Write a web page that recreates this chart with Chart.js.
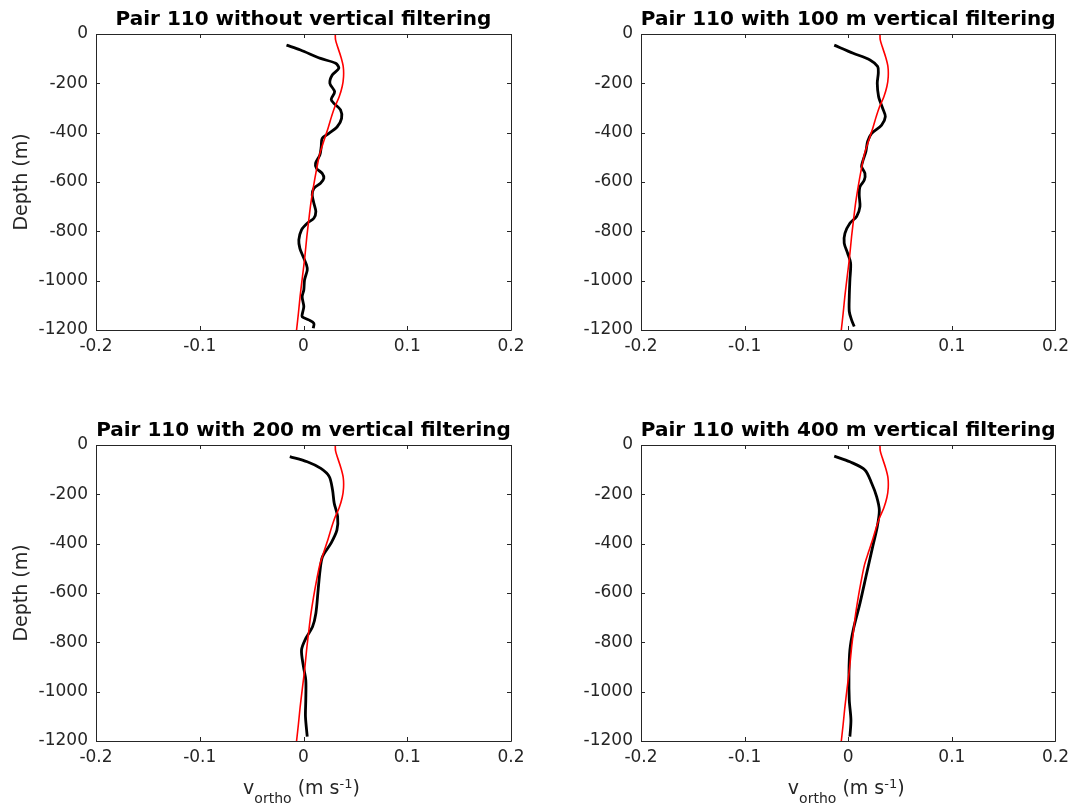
<!DOCTYPE html>
<html>
<head>
<meta charset="utf-8">
<script src="https://cdn.jsdelivr.net/npm/chart.js@4.4.1/dist/chart.umd.min.js"></script>
<style>
  html, body { margin: 0; padding: 0; background: #ffffff; }
  #wrap { position: relative; width: 1075px; height: 810px; background: #ffffff; overflow: hidden; }
  #wrap canvas { position: absolute; left: 0; top: 0; }
</style>
</head>
<body>
<div id="wrap">
  <canvas id="c0" width="1075" height="810"></canvas>
  <canvas id="c1" width="1075" height="810"></canvas>
  <canvas id="c2" width="1075" height="810"></canvas>
  <canvas id="c3" width="1075" height="810"></canvas>
</div>
<script>
// ---------------- data ----------------
const titles = [
  'Pair 110 without vertical filtering',
  'Pair 110 with 100 m vertical filtering',
  'Pair 110 with 200 m vertical filtering',
  'Pair 110 with 400 m vertical filtering'
];
const xTickLabels = ['-0.2', '-0.1', '0', '0.1', '0.2'];
const yTickLabels = ['-1200', '-1000', '-800', '-600', '-400', '-200', '0'];
const yAxisTitle = 'Depth (m)';
const xAxisTitleParts = ['v', 'ortho', ' (m s', '-1', ')'];

// reference profile (red), depth in m (positive down), velocity in m/s
const depthRed = [0, 24, 51, 92, 132, 173, 213, 254, 295, 335, 376, 430, 484, 551, 619, 686, 754, 822, 903, 984, 1065, 1132, 1193, 1200];
const vRed = [0.0306, 0.0309, 0.0328, 0.0360, 0.0383, 0.0386, 0.0373, 0.0344, 0.0302, 0.0270, 0.0241, 0.0199, 0.0158, 0.0125, 0.0096, 0.0071, 0.0051, 0.0032, 0.0013, -0.0010, -0.0033, -0.0049, -0.0065, -0.0067];

// unfiltered profile (black)
const depthRaw = [45, 65, 99, 119, 139, 166, 200, 234, 265, 281, 308, 342, 376, 403, 423, 457, 490, 524, 545, 565, 585, 605, 626, 653, 686, 720, 747, 767, 794, 835, 869, 903, 936, 957, 997, 1038, 1065, 1105, 1132, 1146, 1159, 1173, 1193];
const vRaw = [-0.0164, -0.0029, 0.0164, 0.0310, 0.0340, 0.0277, 0.0254, 0.0300, 0.0267, 0.0293, 0.0357, 0.0367, 0.0325, 0.0245, 0.0180, 0.0171, 0.0158, 0.0116, 0.0126, 0.0180, 0.0196, 0.0164, 0.0100, 0.0084, 0.0100, 0.0119, 0.0100, 0.0036, -0.0019, -0.0045, -0.0035, -0.0003, 0.0029, 0.0036, 0.0010, 0.0003, -0.0013, 0.0003, -0.0010, -0.0013, 0.0051, 0.0100, 0.0094];

// 100 m filtered profile
const depth100 = [45, 78, 105, 132, 159, 200, 254, 301, 335, 369, 403, 436, 477, 517, 538, 565, 592, 619, 653, 700, 740, 767, 808, 848, 889, 929, 997, 1065, 1125, 1159, 1186];
const v100 = [-0.0135, 0.0048, 0.0210, 0.0284, 0.0290, 0.0280, 0.0293, 0.0332, 0.0358, 0.0322, 0.0226, 0.0187, 0.0170, 0.0139, 0.0129, 0.0161, 0.0155, 0.0113, 0.0106, 0.0113, 0.0081, 0.0016, -0.0032, -0.0039, -0.0006, 0.0023, 0.0016, 0.0010, 0.0010, 0.0032, 0.0058];

// 200 m filtered profile
const depth200 = [47, 68, 95, 128, 182, 236, 291, 345, 399, 453, 507, 588, 683, 737, 784, 831, 899, 953, 1034, 1101, 1182];
const v200 = [-0.0132, 0.0036, 0.0167, 0.0248, 0.0280, 0.0296, 0.0329, 0.0322, 0.0264, 0.0183, 0.0160, 0.0141, 0.0119, 0.0087, 0.0022, -0.0019, 0.0000, 0.0022, 0.0022, 0.0019, 0.0036];

// 400 m filtered profile
const depth400 = [45, 68, 101, 155, 209, 264, 331, 412, 520, 642, 750, 831, 926, 1034, 1115, 1182];
const v400 = [-0.0135, 0.0016, 0.0161, 0.0226, 0.0274, 0.0300, 0.0280, 0.0236, 0.0178, 0.0113, 0.0048, 0.0016, 0.0007, 0.0010, 0.0026, 0.0016];

// ---------------- layout ----------------
const FONT = '"DejaVu Sans", "Liberation Sans", sans-serif';
const TXT = '#262626';
const panels = [
  { title: titles[0], depth: depthRaw, v: vRaw, box: [96, 34, 511, 330], ylab: true,  xlab: false },
  { title: titles[1], depth: depth100, v: v100, box: [641, 34, 1056, 330], ylab: false, xlab: false },
  { title: titles[2], depth: depth200, v: v200, box: [96, 445, 511, 741], ylab: true,  xlab: true },
  { title: titles[3], depth: depth400, v: v400, box: [641, 445, 1056, 741], ylab: false, xlab: true }
];
const Y_AXIS_W = 60, X_AXIS_H = 40;

function toPoints(depth, v) {
  return depth.map((d, i) => ({ x: v[i], y: -d }));
}

const decorPlugin = {
  id: 'decor',
  afterDraw(chart) {
    const p = chart.options.plugins.decor;
    const { ctx, chartArea } = chart;
    const { left, top, right, bottom } = chartArea;
    const xs = chart.scales.x, ys = chart.scales.y;
    ctx.save();
    // box
    ctx.strokeStyle = TXT;
    ctx.lineWidth = 1;
    ctx.beginPath();
    ctx.rect(Math.round(left) + 0.5, Math.round(top) + 0.5, Math.round(right - left), Math.round(bottom - top));
    ctx.stroke();
    // inward ticks
    const TL = 4;
    ctx.beginPath();
    xs.ticks.forEach(t => {
      const px = Math.round(xs.getPixelForValue(t.value)) + 0.5;
      ctx.moveTo(px, bottom); ctx.lineTo(px, bottom - TL);
      ctx.moveTo(px, top); ctx.lineTo(px, top + TL);
    });
    ys.ticks.forEach(t => {
      const py = Math.round(ys.getPixelForValue(t.value)) + 0.5;
      ctx.moveTo(left, py); ctx.lineTo(left + TL, py);
      ctx.moveTo(right, py); ctx.lineTo(right - TL, py);
    });
    ctx.stroke();
    // title
    ctx.fillStyle = '#000000';
    ctx.font = 'bold 20px ' + FONT;
    ctx.textAlign = 'center';
    ctx.textBaseline = 'alphabetic';
    ctx.fillText(p.title, (left + right) / 2, top - 9);
    // y label
    if (p.ylab) {
      ctx.save();
      ctx.translate(left - 69, (top + bottom) / 2);
      ctx.rotate(-Math.PI / 2);
      ctx.font = '19px ' + FONT;
      ctx.fillStyle = TXT;
      ctx.textAlign = 'center';
      ctx.fillText(yAxisTitle, 0, 0);
      ctx.restore();
    }
    // x label with subscript / superscript
    if (p.xlab) {
      const fMain = '19px ' + FONT, fSub = '14px ' + FONT, fSup = '13px ' + FONT;
      const parts = [
        { t: xAxisTitleParts[0], f: fMain, dy: 0 },
        { t: xAxisTitleParts[1], f: fSub, dy: 9 },
        { t: xAxisTitleParts[2], f: fMain, dy: 0 },
        { t: xAxisTitleParts[3], f: fSup, dy: -6 },
        { t: xAxisTitleParts[4], f: fMain, dy: 0 }
      ];
      let total = 0;
      parts.forEach(pt => { ctx.font = pt.f; pt.w = ctx.measureText(pt.t).width; total += pt.w; });
      let x0 = (left + right) / 2 - 2 - total / 2;
      const base = bottom + 53;
      ctx.fillStyle = TXT;
      ctx.textAlign = 'left';
      parts.forEach(pt => { ctx.font = pt.f; ctx.fillText(pt.t, x0, base + pt.dy); x0 += pt.w; });
    }
    ctx.restore();
  }
};

panels.forEach((p, i) => {
  const [L, T, R, B] = p.box;
  new Chart(document.getElementById('c' + i), {
    type: 'scatter',
    data: {
      datasets: [
        { data: toPoints(depthRed, vRed), showLine: true, borderColor: '#ff0000', borderWidth: 1.6, pointRadius: 0, tension: 0.3, fill: false },
        { data: toPoints(p.depth, p.v), showLine: true, borderColor: '#000000', borderWidth: 2.8, pointRadius: 0, tension: 0.3, fill: false }
      ]
    },
    options: {
      responsive: false,
      animation: false,
      events: [],
      layout: { padding: { left: L - Y_AXIS_W, top: T, right: 1075 - R, bottom: 810 - B - X_AXIS_H } },
      plugins: {
        legend: { display: false },
        tooltip: { enabled: false },
        decor: { title: p.title, ylab: p.ylab, xlab: p.xlab }
      },
      scales: {
        x: {
          type: 'linear', min: -0.2, max: 0.2,
          grid: { display: false, drawTicks: false },
          border: { display: false },
          ticks: {
            stepSize: 0.1, autoSkip: false, maxRotation: 0, padding: 6,
            color: TXT, font: { family: FONT, size: 17 },
            callback: v => xTickLabels[Math.round(v * 10) + 2]
          },
          afterFit: s => { s.height = X_AXIS_H; }
        },
        y: {
          type: 'linear', min: -1200, max: 0,
          grid: { display: false, drawTicks: false },
          border: { display: false },
          ticks: {
            stepSize: 200, autoSkip: false, padding: 8,
            color: TXT, font: { family: FONT, size: 17 },
            callback: v => yTickLabels[Math.round((v + 1200) / 200)]
          },
          afterFit: s => { s.width = Y_AXIS_W; }
        }
      }
    },
    plugins: [decorPlugin]
  });
});
</script>
</body>
</html>
